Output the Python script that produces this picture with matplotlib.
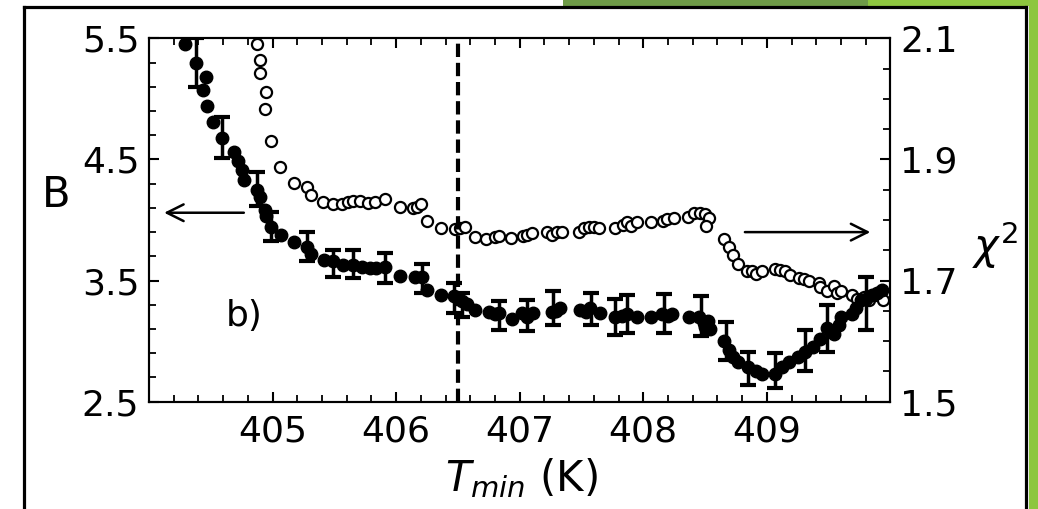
import matplotlib
matplotlib.use('Agg')
import matplotlib.pyplot as plt
import numpy as np
from matplotlib.patches import Rectangle
from matplotlib.lines import Line2D

# B fit parameter (filled circles, left axis)
T_B = [404.29, 404.38, 404.44, 404.46, 404.47, 404.52, 404.59, 404.69, 404.72, 404.75,
       404.77, 404.87, 404.90, 404.94, 404.95, 404.99, 405.07, 405.17, 405.28, 405.31,
       405.42, 405.49, 405.57, 405.65, 405.72, 405.79, 405.84, 405.91, 406.03, 406.15,
       406.21, 406.25, 406.36, 406.47, 406.53, 406.57, 406.64, 406.75, 406.80, 406.83,
       406.94, 407.02, 407.06, 407.11, 407.26, 407.29, 407.33, 407.49, 407.54, 407.57,
       407.65, 407.77, 407.83, 407.87, 407.95, 408.06, 408.15, 408.20, 408.23, 408.37,
       408.45, 408.49, 408.50, 408.52, 408.54, 408.65, 408.69, 408.73, 408.77, 408.85,
       408.91, 408.96, 409.07, 409.12, 409.18, 409.25, 409.31, 409.37, 409.43, 409.49,
       409.54, 409.58, 409.60, 409.69, 409.72, 409.76, 409.80, 409.85, 409.89, 409.93]
B = [5.45, 5.30, 5.07, 5.18, 4.94, 4.81, 4.68, 4.56, 4.49, 4.41,
     4.33, 4.25, 4.19, 4.08, 4.03, 3.94, 3.88, 3.82, 3.78, 3.72,
     3.67, 3.66, 3.63, 3.63, 3.61, 3.60, 3.60, 3.61, 3.54, 3.53,
     3.53, 3.42, 3.38, 3.37, 3.33, 3.31, 3.26, 3.24, 3.22, 3.23,
     3.18, 3.23, 3.20, 3.23, 3.24, 3.25, 3.27, 3.26, 3.24, 3.27,
     3.23, 3.20, 3.21, 3.22, 3.20, 3.20, 3.22, 3.21, 3.22, 3.20,
     3.20, 3.15, 3.12, 3.17, 3.10, 3.00, 2.93, 2.87, 2.83, 2.79,
     2.75, 2.73, 2.73, 2.79, 2.83, 2.87, 2.91, 2.95, 3.02, 3.11,
     3.06, 3.13, 3.20, 3.22, 3.27, 3.34, 3.35, 3.38, 3.40, 3.42]

# error bars shown on a subset of the B points
bar_T = [404.38, 404.59, 404.87, 404.99, 405.28, 405.49, 405.65, 405.91, 406.21, 406.47,
         406.53, 406.83, 407.06, 407.27, 407.58, 407.77, 407.87, 408.17, 408.47, 408.67,
         408.85, 409.07, 409.31, 409.49, 409.80]
bar_B = [5.30, 4.68, 4.255, 3.945, 3.78, 3.64, 3.635, 3.605, 3.52, 3.355,
         3.30, 3.21, 3.21, 3.27, 3.265, 3.20, 3.225, 3.23, 3.205, 3.00,
         2.775, 2.755, 2.92, 3.105, 3.31]
bar_err = [0.20, 0.17, 0.14, 0.12, 0.12, 0.11, 0.115, 0.125, 0.12, 0.125,
           0.10, 0.12, 0.13, 0.14, 0.135, 0.15, 0.155, 0.16, 0.165, 0.155,
           0.135, 0.145, 0.17, 0.195, 0.22]

# chi^2 of the fit (open circles, right axis)
T_chi = [404.87, 404.90, 404.90, 404.95, 404.94, 404.99, 405.06, 405.17, 405.28, 405.31,
         405.41, 405.49, 405.56, 405.61, 405.65, 405.71, 405.77, 405.83, 405.91, 406.03,
         406.14, 406.17, 406.20, 406.25, 406.36, 406.48, 406.52, 406.56, 406.64, 406.73,
         406.80, 406.83, 406.93, 407.03, 407.06, 407.10, 407.22, 407.26, 407.30, 407.34,
         407.48, 407.52, 407.56, 407.60, 407.64, 407.77, 407.84, 407.87, 407.90, 407.95,
         408.06, 408.16, 408.19, 408.25, 408.36, 408.41, 408.46, 408.50, 408.53, 408.51,
         408.65, 408.69, 408.73, 408.77, 408.84, 408.88, 408.91, 408.96, 409.07, 409.11,
         409.15, 409.19, 409.26, 409.30, 409.34, 409.42, 409.43, 409.49, 409.54, 409.57,
         409.60, 409.69, 409.73, 409.79, 409.83, 409.89, 409.94]
chi = [2.091, 2.064, 2.042, 2.012, 1.983, 1.931, 1.888, 1.861, 1.855, 1.841,
       1.829, 1.826, 1.826, 1.830, 1.832, 1.831, 1.828, 1.830, 1.835, 1.822,
       1.819, 1.822, 1.826, 1.799, 1.786, 1.785, 1.786, 1.788, 1.772, 1.768,
       1.772, 1.774, 1.771, 1.774, 1.776, 1.778, 1.781, 1.775, 1.780, 1.780,
       1.781, 1.786, 1.789, 1.788, 1.787, 1.786, 1.792, 1.796, 1.790, 1.796,
       1.797, 1.799, 1.801, 1.804, 1.805, 1.812, 1.812, 1.810, 1.803, 1.790,
       1.768, 1.755, 1.742, 1.728, 1.715, 1.715, 1.711, 1.716, 1.719, 1.717,
       1.715, 1.709, 1.705, 1.702, 1.700, 1.696, 1.689, 1.683, 1.691, 1.679,
       1.682, 1.676, 1.669, 1.673, 1.668, 1.676, 1.668]

x_ticks = [405, 406, 407, 408, 409]
B_ticks = [2.5, 3.5, 4.5, 5.5]
chi_ticks = [1.5, 1.7, 1.9, 2.1]
T_cut = 406.5

W, H = 1038, 509
fig = plt.figure(figsize=(W / 100, H / 100), dpi=100)
fig.patch.set_facecolor('white')

# slide decoration: green bands and black frame
fig.patches.append(Rectangle((1029 / W, 0), 9 / W, 1, transform=fig.transFigure,
                             facecolor='#8dc63f', edgecolor='none', zorder=0))
fig.patches.append(Rectangle((563 / W, 1 - 6 / H), 305 / W, 6 / H, transform=fig.transFigure,
                             facecolor='#6e9b47', edgecolor='none', zorder=0))
fig.patches.append(Rectangle((868 / W, 1 - 6 / H), 170 / W, 6 / H, transform=fig.transFigure,
                             facecolor='#8dc63f', edgecolor='none', zorder=0))
frame_kw = dict(color='black', linewidth=2.3, transform=fig.transFigure, zorder=1)
fig.lines.append(Line2D([24 / W, 24 / W], [0, 1 - 7 / H], **frame_kw))
fig.lines.append(Line2D([24 / W, 1026 / W], [1 - 7 / H, 1 - 7 / H], **frame_kw))
fig.lines.append(Line2D([1026 / W, 1026 / W], [0, 1 - 7 / H], **frame_kw))

ax = fig.add_axes([149 / W, 1 - 401.7 / H, 741.4 / W, 363.4 / H])
ax2 = ax.twinx()

fs = 26   # tick labels
lfs = 30  # axis labels
for a in (ax, ax2):
    for s in a.spines.values():
        s.set_linewidth(1.5)

ax.set_xlim(404, 410)
ax.set_ylim(2.5, 5.5)
ax2.set_ylim(1.5, 2.1)

ax.set_xticks(x_ticks)
ax.set_xticks(np.arange(404.2, 410.0, 0.2), minor=True)
ax.set_yticks(B_ticks)
ax.set_yticks(np.arange(2.7, 5.45, 0.2), minor=True)
ax2.set_yticks(chi_ticks)
ax2.set_yticks(np.arange(1.55, 2.09, 0.05), minor=True)

ax.tick_params(axis='x', which='both', direction='in', top=True, bottom=True, labelsize=fs, pad=9)
ax.tick_params(axis='y', which='both', direction='in', left=True, right=False, labelsize=fs, pad=7)
ax2.tick_params(axis='y', which='both', direction='in', right=True, labelsize=fs, pad=7)
for a in (ax, ax2):
    a.tick_params(which='major', length=7, width=1.5)
    a.tick_params(which='minor', length=5, width=1.3)

ax.axvline(T_cut, color='black', linewidth=3, linestyle=(0, (3.2, 1.4)), zorder=1)

ax.errorbar(bar_T, bar_B, yerr=bar_err, fmt='none', ecolor='black', elinewidth=2.5,
            capsize=6, capthick=3, zorder=3)
ax.plot(T_B, B, 'o', color='black', markersize=9, zorder=4)
ax2.plot(T_chi, chi, 'o', markerfacecolor='white', markeredgecolor='black',
         markeredgewidth=1.6, markersize=8, zorder=2)

ax.annotate('', xy=(404.10, 4.06), xytext=(404.79, 4.06),
            arrowprops=dict(arrowstyle='->', color='black', lw=1.8, mutation_scale=30))
ax.annotate('', xy=(409.86, 3.90), xytext=(408.80, 3.90),
            arrowprops=dict(arrowstyle='->', color='black', lw=1.8, mutation_scale=30))

ax.text(404.77, 3.21, 'b)', fontsize=fs, ha='center', va='center')

ax.set_ylabel('B', fontsize=lfs, rotation=0, va='center', ha='center')
ax.yaxis.set_label_coords(-0.125, 0.569)
ax2.set_ylabel(r'$\chi^2$', fontsize=lfs, rotation=0, va='center', ha='center')
ax2.yaxis.set_label_coords(1.141, 0.43)
ax.set_xlabel(r'$T_{min}$ (K)', fontsize=lfs, va='center', ha='center')
ax.xaxis.set_label_coords(0.502, -0.21)

ax.set_zorder(ax2.get_zorder() + 1)
ax.patch.set_visible(False)

fig.savefig('out.png', dpi=100, facecolor=fig.get_facecolor())
